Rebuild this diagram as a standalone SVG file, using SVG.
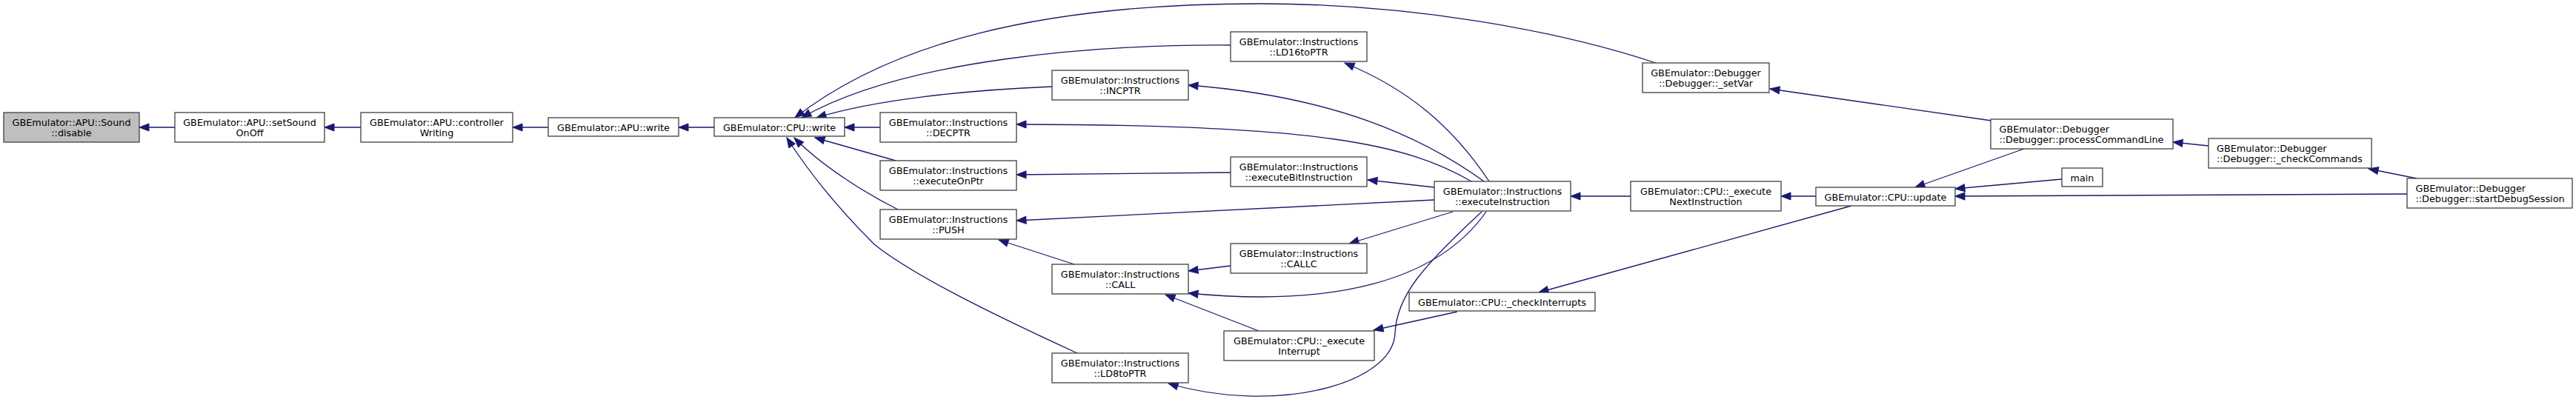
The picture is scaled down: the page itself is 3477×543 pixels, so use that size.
<svg xmlns="http://www.w3.org/2000/svg" width="3477" height="543" viewBox="0 0 3477 543">
<style>
.n rect{fill:#ffffff;stroke:#404040;stroke-width:1.3}
.n.root rect{fill:#bfbfbf}
.n text{font-family:"DejaVu Sans","Liberation Sans",sans-serif;font-size:12.8px;fill:#000000;text-anchor:middle}
.n text.l{text-anchor:start}
.e path{fill:none;stroke:#191970;stroke-width:1.3;marker-end:url(#ah)}
</style>
<defs>
<marker id="ah" markerUnits="userSpaceOnUse" markerWidth="15" markerHeight="12" refX="13" refY="5" orient="auto" overflow="visible">
<path d="M0,0 L13,5 L0,10 z" fill="#191970" stroke="#191970" stroke-width="1"/>
</marker>
</defs>
<rect width="3477" height="543" fill="#ffffff"/>
<g id="connectors" class="e">
<path d="M236,172 L188,172"/>
<path d="M487,172 L438,172"/>
<path d="M740,172 L692,172"/>
<path d="M964,172 L916,172"/>
<path d="M1188,172 L1140,172"/>
<path d="M1209,217 L1100,186"/>
<path d="M1212,283 C1170,262 1110,225 1072,186"/>
<path d="M1454,477 C1330,420 1230,370 1180,330 C1130,280 1090,230 1062,186"/>
<path d="M1420,117 C1300,122 1180,135 1102,159"/>
<path d="M1661,61 C1480,60 1220,80 1082,159"/>
<path d="M2235,85 C2100,40 1900,5 1700,5 C1400,5 1200,60 1073,159"/>
<path d="M2010,245 C1960,170 1900,120 1815,85"/>
<path d="M2003,245 C1920,185 1800,130 1604,115"/>
<path d="M1986,245 C1900,195 1780,168 1372,168"/>
<path d="M1661,233 L1372,236"/>
<path d="M1936,253 L1846,243"/>
<path d="M1936,270 L1372,298"/>
<path d="M1961,286 L1821,329"/>
<path d="M1661,359 L1604,366"/>
<path d="M2006,286 C1940,380 1800,415 1604,396"/>
<path d="M1699,447 L1573,398"/>
<path d="M1450,357 L1348,324"/>
<path d="M2000,286 C1920,360 1885,400 1883,450 C1880,520 1720,560 1577,518"/>
<path d="M1967,421 L1854,446"/>
<path d="M2499,278 L2077,395"/>
<path d="M2201,265 L2120,265"/>
<path d="M2451,265 L2404,265"/>
<path d="M2732,201 L2585,253"/>
<path d="M2783,242 L2639,255"/>
<path d="M3249,262 L2639,265"/>
<path d="M2688,163 L2389,120"/>
<path d="M2981,197 L2933,192"/>
<path d="M3262,241 L3197,228"/>
</g>
<g id="n_disable" class="n root"><rect x="5" y="152" width="183" height="40"/><text x="96.5" y="169.5">GBEmulator::APU::Sound</text><text x="96.5" y="184">::disable</text></g>
<g id="n_setSoundOnOff" class="n"><rect x="236" y="152" width="202" height="40"/><text x="337" y="169.5">GBEmulator::APU::setSound</text><text x="337" y="184">OnOff</text></g>
<g id="n_controllerWriting" class="n"><rect x="487" y="152" width="205" height="40"/><text x="589.5" y="169.5">GBEmulator::APU::controller</text><text x="589.5" y="184">Writing</text></g>
<g id="n_apu_write" class="n"><rect x="740" y="159" width="176" height="25"/><text x="828" y="176.5">GBEmulator::APU::write</text></g>
<g id="n_cpu_write" class="n"><rect x="964" y="159" width="176" height="25"/><text x="1052" y="176.5">GBEmulator::CPU::write</text></g>
<g id="n_LD16toPTR" class="n"><rect x="1661" y="43" width="184" height="40"/><text x="1753" y="60.5">GBEmulator::Instructions</text><text x="1753" y="75">::LD16toPTR</text></g>
<g id="n_INCPTR" class="n"><rect x="1420" y="95" width="184" height="40"/><text x="1512" y="112.5">GBEmulator::Instructions</text><text x="1512" y="127">::INCPTR</text></g>
<g id="n_DECPTR" class="n"><rect x="1188" y="152" width="184" height="40"/><text x="1280" y="169.5">GBEmulator::Instructions</text><text x="1280" y="184">::DECPTR</text></g>
<g id="n_executeOnPtr" class="n"><rect x="1188" y="217" width="184" height="40"/><text x="1280" y="234.5">GBEmulator::Instructions</text><text x="1280" y="249">::executeOnPtr</text></g>
<g id="n_executeBitInstruction" class="n"><rect x="1661" y="212" width="184" height="40"/><text x="1753" y="229.5">GBEmulator::Instructions</text><text x="1753" y="244">::executeBitInstruction</text></g>
<g id="n_PUSH" class="n"><rect x="1188" y="283" width="184" height="40"/><text x="1280" y="300.5">GBEmulator::Instructions</text><text x="1280" y="315">::PUSH</text></g>
<g id="n_CALLC" class="n"><rect x="1661" y="329" width="184" height="40"/><text x="1753" y="346.5">GBEmulator::Instructions</text><text x="1753" y="361">::CALLC</text></g>
<g id="n_CALL" class="n"><rect x="1420" y="357" width="184" height="40"/><text x="1512" y="374.5">GBEmulator::Instructions</text><text x="1512" y="389">::CALL</text></g>
<g id="n_LD8toPTR" class="n"><rect x="1420" y="477" width="184" height="40"/><text x="1512" y="494.5">GBEmulator::Instructions</text><text x="1512" y="509">::LD8toPTR</text></g>
<g id="n_executeInterrupt" class="n"><rect x="1652" y="447" width="203" height="40"/><text x="1753.5" y="464.5">GBEmulator::CPU::_execute</text><text x="1753.5" y="479">Interrupt</text></g>
<g id="n_executeInstruction" class="n"><rect x="1936" y="245" width="184" height="40"/><text x="2028" y="262.5">GBEmulator::Instructions</text><text x="2028" y="277">::executeInstruction</text></g>
<g id="n_checkInterrupts" class="n"><rect x="1902" y="395" width="251" height="25"/><text x="2027.5" y="412.5">GBEmulator::CPU::_checkInterrupts</text></g>
<g id="n_setVar" class="n"><rect x="2217" y="85" width="171" height="40"/><text x="2302.5" y="102.5">GBEmulator::Debugger</text><text x="2302.5" y="117">::Debugger::_setVar</text></g>
<g id="n_executeNextInstruction" class="n"><rect x="2201" y="245" width="203" height="40"/><text x="2302.5" y="262.5">GBEmulator::CPU::_execute</text><text x="2302.5" y="277">NextInstruction</text></g>
<g id="n_update" class="n"><rect x="2451" y="253" width="188" height="25"/><text x="2545" y="270.5">GBEmulator::CPU::update</text></g>
<g id="n_processCommandLine" class="n"><rect x="2687" y="161" width="246" height="40"/><text class="l" x="2698.5" y="178.5">GBEmulator::Debugger</text><text class="l" x="2698.5" y="193">::Debugger::processCommandLine</text></g>
<g id="n_main" class="n"><rect x="2783" y="227" width="55" height="25"/><text x="2810.5" y="244.5">main</text></g>
<g id="n_checkCommands" class="n"><rect x="2981" y="187" width="220" height="40"/><text class="l" x="2992" y="204.5">GBEmulator::Debugger</text><text class="l" x="2992" y="219">::Debugger::_checkCommands</text></g>
<g id="n_startDebugSession" class="n"><rect x="3249" y="241" width="223" height="40"/><text class="l" x="3260.5" y="258.5">GBEmulator::Debugger</text><text class="l" x="3260.5" y="273">::Debugger::startDebugSession</text></g>
</svg>
